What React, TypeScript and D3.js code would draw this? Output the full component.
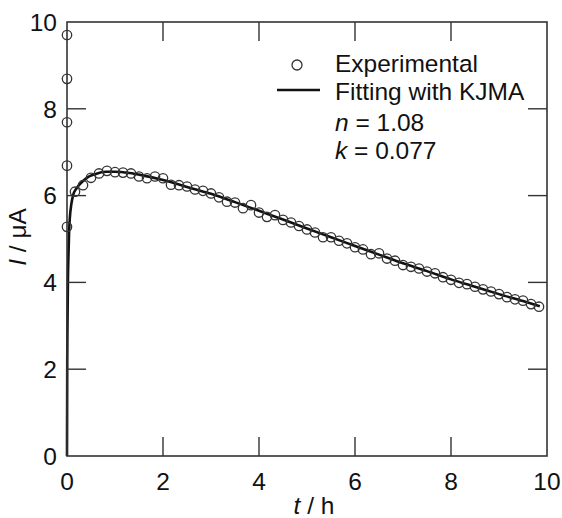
import React from "react";
import * as d3 from "d3";

// Experimental data: points at t = 0 (vertical stack) and every 10 min afterwards
const expT0Values = [9.70, 8.69, 7.69, 6.69, 5.28];
const expStepH = 1 / 6;
const expValues = [
  6.09, 6.24, 6.41, 6.51, 6.57, 6.54, 6.53, 6.51, 6.44, 6.40,
  6.44, 6.40, 6.25, 6.24, 6.21, 6.14, 6.11, 6.05, 5.96, 5.86,
  5.84, 5.71, 5.78, 5.61, 5.51, 5.55, 5.44, 5.38, 5.30, 5.22,
  5.15, 5.04, 5.04, 4.96, 4.90, 4.81, 4.76, 4.65, 4.67, 4.55,
  4.50, 4.40, 4.36, 4.32, 4.25, 4.21, 4.12, 4.06, 3.99, 3.96,
  3.90, 3.84, 3.79, 3.73, 3.66, 3.61, 3.58, 3.50, 3.44,
];

// KJMA fitting curve
const fitT = [0, 0.005, 0.01, 0.02, 0.03, 0.045, 0.06, 0.09, 0.125, 0.2, 0.3, 0.4, 0.6, 0.8, 1.0, 1.3, 1.6, 2.0, 2.5, 3.0, 3.5, 4.0, 4.5, 5.0, 5.5, 6.0, 6.5, 7.0, 7.5, 8.0, 8.5, 9.0, 9.5, 9.85];
const fitI = [0, 2.2, 3.0, 4.1, 4.6, 5.2, 5.5, 5.8, 6.0, 6.17, 6.3, 6.4, 6.5, 6.55, 6.55, 6.52, 6.46, 6.36, 6.2, 6.04, 5.85, 5.65, 5.45, 5.24, 5.04, 4.84, 4.64, 4.44, 4.26, 4.07, 3.9, 3.73, 3.57, 3.45];

const xTicks = [0, 2, 4, 6, 8, 10];
const yTicks = [0, 2, 4, 6, 8, 10];

const W = 562;
const H = 518;
const M = { left: 67, right: 547, top: 22, bottom: 456 };
const FONT = "'Liberation Sans', Arial, sans-serif";
const AX = "#333";
const FS = 24.5;

export default function App() {
  const x = d3.scaleLinear().domain([0, 10]).range([M.left, M.right]);
  const y = d3.scaleLinear().domain([0, 10]).range([M.bottom, M.top]);

  const fitData = fitT.map((t, i) => [t, fitI[i]] as [number, number]);
  const line = d3
    .line<[number, number]>()
    .x((d) => x(d[0]))
    .y((d) => y(d[1]))
    .curve(d3.curveMonotoneX);

  const points: [number, number][] = [
    ...expT0Values.map((v) => [0, v] as [number, number]),
    ...expValues.map((v, i) => [(i + 1) * expStepH, v] as [number, number]),
  ];

  const tickLen = 19;

  return (
    <svg
      width={W}
      height={H}
      style={{ position: "absolute", left: 0, top: 0, background: "#fff" }}
      fontFamily={FONT}
    >
      <rect x={0} y={0} width={W} height={H} fill="#fff" />
      {/* fit line */}
      <path d={line(fitData) || ""} fill="none" stroke="#111" strokeWidth={2.6} />
      {/* experimental points */}
      {points.map((p, i) => (
        <circle
          key={i}
          cx={x(p[0])}
          cy={y(p[1])}
          r={4.7}
          fill="none"
          stroke="#333"
          strokeWidth={1.3}
        />
      ))}
      {/* frame */}
      <rect
        x={M.left}
        y={M.top}
        width={M.right - M.left}
        height={M.bottom - M.top}
        fill="none"
        stroke={AX}
        strokeWidth={1.6}
      />
      {/* x ticks */}
      {xTicks.map((t) => (
        <g key={"x" + t}>
          {t > 0 && t < 10 && (
            <>
              <line x1={x(t)} x2={x(t)} y1={M.bottom} y2={M.bottom - tickLen} stroke={AX} strokeWidth={1.4} />
              <line x1={x(t)} x2={x(t)} y1={M.top} y2={M.top + tickLen} stroke={AX} strokeWidth={1.4} />
            </>
          )}
          <text x={x(t)} y={490} textAnchor="middle" fontSize={FS} fill="#111">
            {t}
          </text>
        </g>
      ))}
      {/* y ticks */}
      {yTicks.map((t) => (
        <g key={"y" + t}>
          {t > 0 && t < 10 && (
            <>
              <line x1={M.left} x2={M.left + tickLen} y1={y(t)} y2={y(t)} stroke={AX} strokeWidth={1.4} />
              <line x1={M.right} x2={M.right - tickLen} y1={y(t)} y2={y(t)} stroke={AX} strokeWidth={1.4} />
            </>
          )}
          <text x={57} y={y(t)} dy="0.36em" textAnchor="end" fontSize={FS} fill="#111">
            {t}
          </text>
        </g>
      ))}
      {/* axis titles */}
      <text x={314} y={514} textAnchor="middle" fontSize={FS} fill="#111">
        <tspan fontStyle="italic">t</tspan> / h
      </text>
      <text
        transform="translate(26,237) rotate(-90)"
        textAnchor="middle"
        fontSize={FS}
        fill="#111"
      >
        <tspan fontStyle="italic">I</tspan> / μA
      </text>
      {/* legend */}
      <circle cx={297} cy={65} r={5} fill="none" stroke="#333" strokeWidth={1.3} />
      <text x={335} y={72} fontSize={FS} fill="#111">Experimental</text>
      <line x1={277} x2={320} y1={90} y2={90} stroke="#111" strokeWidth={2.6} />
      <text x={335} y={100} fontSize={FS} fill="#111">Fitting with KJMA</text>
      <text x={335} y={130.5} fontSize={FS} fill="#111">
        <tspan fontStyle="italic">n</tspan> = 1.08
      </text>
      <text x={335} y={158.5} fontSize={FS} fill="#111">
        <tspan fontStyle="italic">k</tspan> = 0.077
      </text>
    </svg>
  );
}
